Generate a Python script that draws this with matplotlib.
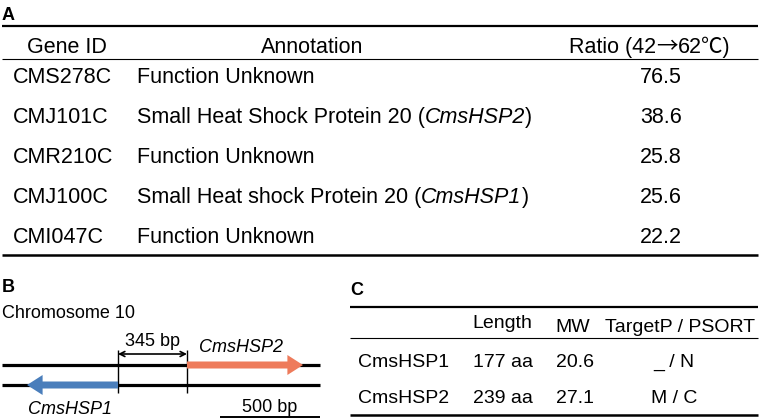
import matplotlib
matplotlib.use("Agg")
import matplotlib.pyplot as plt
from matplotlib import font_manager

plt.rcParams["font.family"] = ["Liberation Sans", "Noto Sans CJK JP", "DejaVu Sans"]

# ── Panel A: top induced genes ─────────────────────────────
gene_ids = ["CMS278C", "CMJ101C", "CMR210C", "CMJ100C", "CMI047C"]
annotations = ["Function Unknown", "Small Heat Shock Protein 20",
               "Function Unknown", "Small Heat shock Protein 20",
               "Function Unknown"]
gene_names = [None, "CmsHSP2", None, "CmsHSP1", None]
ratios = [76.5, 38.6, 25.8, 25.6, 22.2]
headers_a = ["Gene ID", "Annotation"]
ratio_header = ["Ratio (42", "\u2192", "62\u2103)"]

# ── Panel B: locus on chromosome 10 (bp) ───────────────────
chrom_label = "Chromosome 10"
gap_bp = 345
hsp1_bp = 455       # drawn length of CmsHSP1 arrow
hsp2_bp = 580       # drawn length of CmsHSP2 arrow
chrom_span = (-580, 1010)
scale_bp = 500

# ── Panel C: protein features ──────────────────────────────
proteins = ["CmsHSP1", "CmsHSP2"]
lengths_aa = [177, 239]
mw_kda = [20.6, 27.1]
localization = ["_ / N", "M / C"]
headers_c = ["Length", "MW", "TargetP / PSORT"]

ORANGE = "#EE7B5B"
BLUE = "#4A7EBB"
FS_A = 15.5
FS_B = 13

# panel C text is narrower than panel A in the original
installed = {f.name for f in font_manager.fontManager.ttflist}
if "Liberation Sans Narrow" in installed:
    FAM_C = ["Liberation Sans Narrow", "DejaVu Sans"]
    FS_C = 15.5
else:
    FAM_C = ["Liberation Sans", "DejaVu Sans"]
    FS_C = 14

fig = plt.figure(figsize=(7.6, 4.19), dpi=100)
ax = fig.add_axes([0, 0, 1, 1])
ax.set_xlim(0, 760); ax.set_ylim(419, 0); ax.axis("off")


def rich_text(ax, x, y, parts, **kw):
    """Write pieces (text, extra kwargs) one after another on a baseline."""
    s0, k0 = parts[0]
    t = ax.text(x, y, s0, va="baseline", **{**kw, **k0})
    for s, k in parts[1:]:
        t = ax.annotate(s, xy=(1, 0), xycoords=t, va="bottom", **{**kw, **k})
    return t


# Panel A
ax.text(2, 20, "A", fontsize=13, fontweight="bold", va="baseline")
ax.hlines(26, 2, 758, color="black", lw=1.6)
ax.hlines(59, 2, 758, color="black", lw=0.8)
ax.hlines(255, 2, 758, color="black", lw=1.8)
for hx, h in zip([67, 312], headers_a):
    ax.text(hx, 53, h, fontsize=FS_A, ha="center", va="baseline")
rich_text(ax, 569, 53, [(ratio_header[0], {}),
                        (ratio_header[1], {"family": "Noto Sans CJK JP"}),
                        (ratio_header[2], {})], fontsize=FS_A)

row_y = [83, 123, 163, 203, 243]
for y, gid, ann, gn, r in zip(row_y, gene_ids, annotations, gene_names, ratios):
    ax.text(13, y, gid, fontsize=FS_A, va="baseline")
    if gn:
        rich_text(ax, 137, y, [(ann + " (", {}), (gn, {"style": "italic"}),
                               (")", {})], fontsize=FS_A)
    else:
        ax.text(137, y, ann, fontsize=FS_A, va="baseline")
    ax.text(661, y, f"{r:.1f}", fontsize=FS_A, ha="center", va="baseline")

# Panel B  (second axes, x in bp)
px_per_bp, origin_px = 0.2, 118
axb = fig.add_axes([0, 0, 1, 1])
axb.set_xlim(-origin_px / px_per_bp, (760 - origin_px) / px_per_bp)
axb.set_ylim(419, 0); axb.axis("off"); axb.patch.set_alpha(0)

ax.text(2, 292, "B", fontsize=13, fontweight="bold", va="baseline")
ax.text(2, 318, chrom_label, fontsize=FS_B, va="baseline")

axb.hlines([365, 385], *chrom_span, color="black", lw=2.3, zorder=1)
axb.vlines([0, gap_bp], 350, 393, color="black", lw=1.0, zorder=1)
axb.annotate("", xy=(0, 354), xytext=(gap_bp, 354),
             arrowprops=dict(arrowstyle="<->", lw=1.2, color="black",
                             shrinkA=0, shrinkB=0, mutation_scale=9))
axb.text(gap_bp / 2, 346, f"{gap_bp} bp", fontsize=FS_B,
         ha="center", va="baseline")

axb.arrow(gap_bp, 365, hsp2_bp, 0, width=7, head_width=20, head_length=78,
          length_includes_head=True, color=ORANGE, lw=0, zorder=2)
axb.arrow(0, 385, -hsp1_bp, 0, width=7, head_width=20, head_length=78,
          length_includes_head=True, color=BLUE, lw=0, zorder=2)
ax.text(199, 352, proteins[1], fontsize=FS_B, style="italic", va="baseline")
ax.text(28, 414, proteins[0], fontsize=FS_B, style="italic", va="baseline")

axb.hlines(417, chrom_span[1] - scale_bp, chrom_span[1], color="black", lw=1.4)
axb.text(chrom_span[1] - scale_bp / 2, 412, f"{scale_bp} bp", fontsize=FS_B,
         ha="center", va="baseline")

# Panel C
ax.text(350, 295, "C", fontsize=13, fontweight="bold", va="baseline")
ax.hlines(307, 350, 758, color="black", lw=1.6)
ax.hlines(338, 350, 758, color="black", lw=0.8)
ax.hlines(415, 350, 758, color="black", lw=1.8)
for hx, hy, h in zip([502, 573, 680], [328, 332, 332], headers_c):
    ax.text(hx, hy, h, fontsize=FS_C, family=FAM_C, ha="center", va="baseline")
for y, p, ln, mw, loc in zip([367, 403], proteins, lengths_aa, mw_kda, localization):
    ax.text(358, y, p, fontsize=FS_C, family=FAM_C, va="baseline")
    ax.text(503, y, f"{ln} aa", fontsize=FS_C, family=FAM_C, ha="center", va="baseline")
    ax.text(575, y, f"{mw:.1f}", fontsize=FS_C, family=FAM_C, ha="center", va="baseline")
    ax.text(674, y, loc, fontsize=FS_C, family=FAM_C, ha="center", va="baseline")

fig.savefig("out.png", dpi=100)
